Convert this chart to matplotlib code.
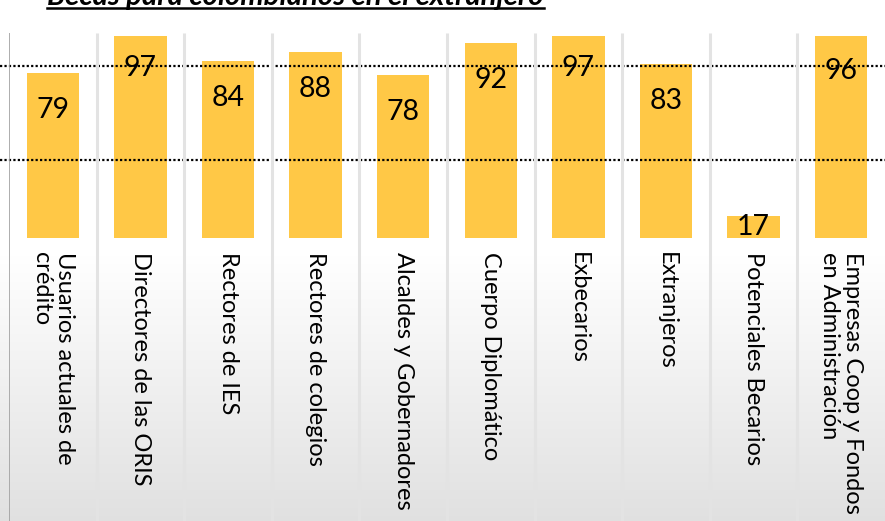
import numpy as np
import matplotlib
matplotlib.use("Agg")
import matplotlib.pyplot as plt

# datos del grafico
categorias = ["Usuarios actuales de\ncrédito", "Directores de las ORIS", "Rectores de IES",
              "Rectores de colegios", "Alcaldes y Gobernadores", "Cuerpo Diplomático",
              "Exbecarios", "Extranjeros", "Potenciales Becarios",
              "Empresas Coop y Fondos\nen Administración"]
valores = [79, 97, 84, 88, 78, 92, 97, 83, 17, 96]
lineas_ref = [82.1, 41.3]   # las dos lineas punteadas
titulo = "Becas para colombianos en el extranjero"

AMARILLO = "#FFC846"
plt.rcParams['font.family'] = ['Lato', 'DejaVu Sans']

W, H = 885, 521
fig = plt.figure(figsize=(W / 100, H / 100), dpi=100)

# fondo con degradado blanco -> gris abajo
bg = fig.add_axes([0, 0, 1, 1], zorder=-10)
bg.axis('off')
g = np.ones((H, 1))
yy = np.arange(H)
t = np.clip((yy - 255) / (H - 255), 0, 1)
g[:, 0] = 1 - t * (1 - 0.88)
bg.imshow(np.dstack([g, g, g]), aspect='auto', extent=[0, 1, 0, 1], origin='upper')
bg.set_xlim(0, 1); bg.set_ylim(0, 1)

left = 9 / W
width = (W - 9) / W
ymin, ymax = 7.5, 95

ax = fig.add_axes([left, (H - 238) / H, width, 202 / H], zorder=1)
ax.patch.set_alpha(0)
x = np.arange(len(valores))
ax.bar(x, valores, width=0.6, color=AMARILLO, zorder=2)
ax.set_xlim(-0.5, len(valores) - 0.5)
ax.set_ylim(ymin, ymax)
for s in ax.spines.values():
    s.set_visible(False)
ax.set_yticks([])
ax.set_xticks(x)
ax.set_xticklabels(categorias, rotation=270, va='top', ha='center',
                   multialignment='left', fontsize=17, linespacing=1.1)
ax.tick_params(axis='x', length=0, pad=10)

for yv in lineas_ref:
    ax.axhline(yv, xmin=-left / width, xmax=1.0, color='black', lw=1.6,
               linestyle=(0, (1, 1)), clip_on=False, zorder=3)

# etiquetas de valor
for xi, v in zip(x, valores):
    alto_px = (min(v, ymax) - ymin) / (ymax - ymin) * 202
    if alto_px < 66:
        ax.text(xi, (v + ymin) / 2, str(v), ha='center', va='center',
                fontsize=20.5, zorder=4)
    else:
        ax.annotate(str(v), (xi, v), xytext=(0, -37 * 0.72), textcoords='offset points',
                    ha='center', va='center', fontsize=20.5, zorder=4,
                    annotation_clip=False)

# separadores verticales entre categorias
sep = fig.add_axes([left, 0, width, (H - 33) / H], zorder=2)
sep.axis('off')
sep.set_xlim(-0.5, len(valores) - 0.5)
sep.set_ylim(0, 1)
sep.vlines(np.arange(0.5, len(valores) - 0.5), 0, 1, color='#e3e3e3', lw=2.2)
sep.vlines([-0.5], 0, 1, color='#a0a0a0', lw=1.2)

# titulo subrayado (cortado arriba)
tt = fig.text(47 / W, (H - 5) / H, titulo, fontsize=21.2, fontweight='bold',
              fontstyle='italic', ha='left', va='baseline')
fig.canvas.draw()
bb = tt.get_window_extent()
fig.add_artist(plt.Line2D([bb.x0 / W, bb.x1 / W], [(H - 7.8) / H, (H - 7.8) / H],
                          color='black', lw=1.8, transform=fig.transFigure))

fig.savefig("out.png", dpi=100)
